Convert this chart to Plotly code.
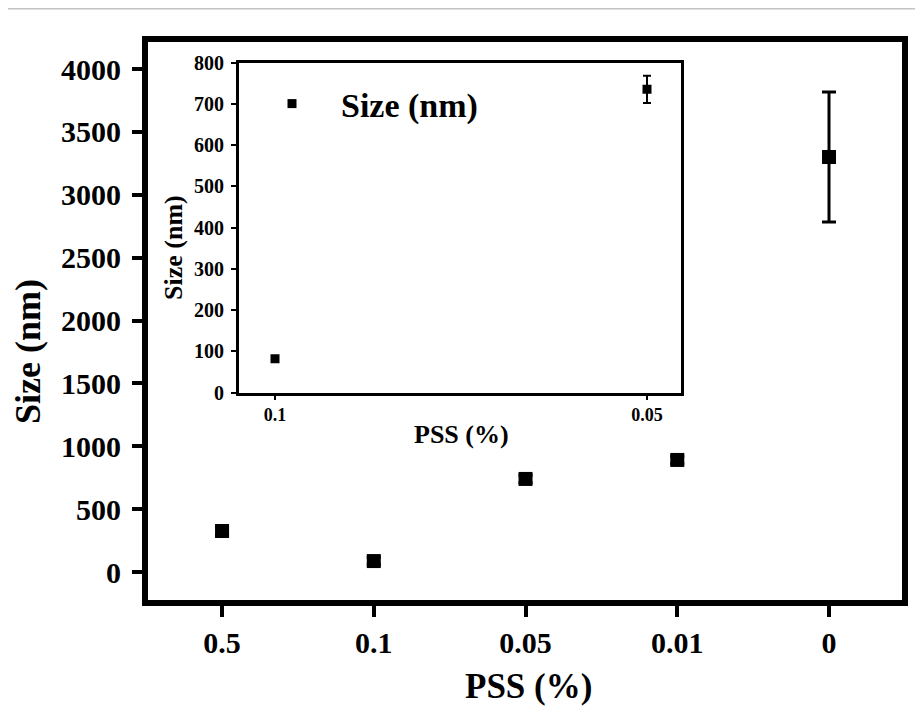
import plotly.graph_objects as go

# Main data
pss_labels = ["0.5", "0.1", "0.05", "0.01", "0"]
size_nm = [326, 87, 740, 891, 3300]
size_err = [30, 30, 30, 30, 517]

# Inset data
inset_labels = ["0.1", "0.05"]
inset_size = [82, 735]
inset_err = [6, 33]

# page is offset by the default 8px body margin
OFF = 8
W, H = 915, 701
def px(x): return (x - OFF) / W
def py(y): return 1 - (y - OFF) / H

FONT = "Liberation Serif"
def f(size):
    return dict(family=FONT, size=size, color="black", weight="bold")

fig = go.Figure()

fig.add_trace(go.Scatter(
    x=list(range(len(pss_labels))), y=size_nm, mode="markers",
    marker=dict(symbol="square", size=14, color="black"),
    error_y=dict(type="data", array=size_err, visible=True, color="black", thickness=3, width=7),
    showlegend=False, xaxis="x", yaxis="y"))

fig.add_trace(go.Scatter(
    x=list(range(len(inset_labels))), y=inset_size, mode="markers",
    marker=dict(symbol="square", size=9, color="black"),
    error_y=dict(type="data", array=inset_err, visible=True, color="black", thickness=2, width=4),
    name="Size (nm)", showlegend=True, xaxis="x2", yaxis="y2"))

fig.update_layout(
    width=W, height=H,
    margin=dict(l=0, r=0, t=0, b=0),
    paper_bgcolor="white", plot_bgcolor="white",
    xaxis=dict(domain=[px(148), px(902)], range=[-0.488, 4.481],
               tickmode="array", tickvals=list(range(len(pss_labels))), ticktext=pss_labels,
               showline=True, linewidth=6, linecolor="black", mirror=True,
               ticks="outside", ticklen=11, tickwidth=4, tickcolor="black", ticklabelstandoff=0,
               showgrid=False, zeroline=False, tickfont=f(30), automargin=False),
    yaxis=dict(domain=[py(600), py(41.5)], range=[-222.7, 4218.7],
               tickmode="array", tickvals=[0, 500, 1000, 1500, 2000, 2500, 3000, 3500, 4000],
               showline=True, linewidth=6, linecolor="black", mirror=True,
               ticks="outside", ticklen=10, tickwidth=4, tickcolor="black", ticklabelstandoff=5,
               showgrid=False, zeroline=False, tickfont=f(30), automargin=False),
    xaxis2=dict(domain=[px(239), px(681)], range=[-0.0968, 1.0914], anchor="y2",
                tickmode="array", tickvals=[0, 1], ticktext=inset_labels,
                showline=True, linewidth=3, linecolor="black", mirror=True,
                ticks="outside", ticklen=4, tickwidth=2, tickcolor="black", ticklabelstandoff=0,
                showgrid=False, zeroline=False, tickfont=f(18), automargin=False),
    yaxis2=dict(domain=[py(392.5), py(62.5)], range=[0, 800], anchor="x2",
                tickmode="array", tickvals=[0, 100, 200, 300, 400, 500, 600, 700, 800],
                showline=True, linewidth=3, linecolor="black", mirror=True,
                ticks="outside", ticklen=5, tickwidth=2, tickcolor="black", ticklabelstandoff=3,
                showgrid=False, zeroline=False, tickfont=f(20), automargin=False),
    legend=dict(x=px(243), y=py(104), xanchor="left", yanchor="middle", itemwidth=88,
                bgcolor="rgba(0,0,0,0)", font=f(34)),
    shapes=[dict(type="line", xref="paper", yref="paper", x0=0, x1=1, y0=1, y1=1,
                 line=dict(color="#c4c4c4", width=3))],
    annotations=[
        dict(text="Size (nm)", xref="paper", yref="paper", x=px(28), y=py(352), showarrow=False,
             xanchor="center", yanchor="middle", textangle=-90, font=f(36)),
        dict(text="PSS (%)", xref="paper", yref="paper", x=px(528), y=py(686), showarrow=False,
             xanchor="center", yanchor="middle", font=f(35)),
        dict(text="Size (nm)", xref="paper", yref="paper", x=px(173), y=py(248), showarrow=False,
             xanchor="center", yanchor="middle", textangle=-90, font=f(26)),
        dict(text="PSS (%)", xref="paper", yref="paper", x=px(461), y=py(434), showarrow=False,
             xanchor="center", yanchor="middle", font=f(26)),
    ],
)

fig.write_html("out.html")
